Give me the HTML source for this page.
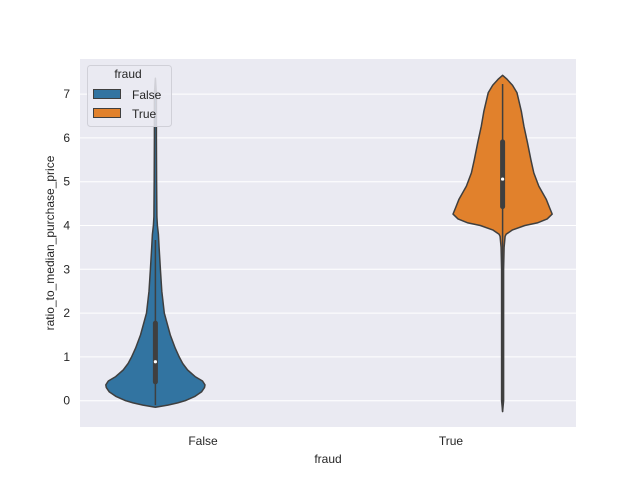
<!DOCTYPE html>
<html><head><meta charset="utf-8"><style>
body{margin:0;background:#fff;font-family:"Liberation Sans",sans-serif}
</style></head><body>
<svg id="c" width="640" height="480" xmlns="http://www.w3.org/2000/svg" style="font-family:'Liberation Sans',sans-serif"></svg>
<script>
const categories=["False","True"];
const colors=["#3274a1","#e1812c"];
const yTicks=[0,1,2,3,4,5,6,7];
const falseY=[-0.15,-0.1,-0.05,0,0.1,0.2,0.3,0.36,0.45,0.55,0.7,0.85,1.0,1.2,1.5,2.0,2.5,3.0,3.5,3.8,4.0,4.2,5,6,7,7.36];
const falseD=[0,0.25,0.45,0.6,0.8,0.93,0.99,1.0,0.95,0.8,0.65,0.55,0.48,0.4,0.3,0.18,0.13,0.1,0.075,0.06,0.04,0.03,0.025,0.02,0.02,0];
const trueY=[-0.25,0,1,2,3,3.5,3.75,3.8,3.9,4.0,4.06,4.15,4.26,4.4,4.6,4.9,5.2,5.5,5.9,6.27,6.6,7.03,7.2,7.35,7.43];
const trueD=[0,0.02,0.02,0.02,0.02,0.03,0.05,0.07,0.2,0.45,0.7,0.9,1.0,0.95,0.88,0.73,0.63,0.57,0.5,0.43,0.38,0.29,0.2,0.08,0];
const boxQ1=[0.43,4.43], boxQ3=[1.77,5.91], medians=[0.89,5.06], whiskLo=[-0.1,-0.25], whiskHi=[3.67,7.23];
const L=80,R=576,T=59,B=427;
const X=v=>203+v*248;
const Y=v=>400.7-v*43.8;
const svg=document.getElementById('c');
const NS="http://www.w3.org/2000/svg";
function mk(t,a,p){const e=document.createElementNS(NS,t);for(const k in a)e.setAttribute(k,a[k]);(p||svg).appendChild(e);return e;}
const bg=mk('rect',{x:L,y:T,width:R-L,height:B-T,fill:'#eaeaf2'});


yTicks.forEach(t=>{
 const g=mk('line',{x1:L,x2:R,y1:Y(t),y2:Y(t),stroke:'#fff','stroke-width':1});
 
 
 const tx=mk('text',{x:L-10,y:Y(t)+4,'text-anchor':'end','font-size':12,fill:'#262626'});
 tx.textContent=t;
 
 
});
categories.forEach((c,i)=>{
 const tx=mk('text',{x:X(i),y:445,'text-anchor':'middle','font-size':12,fill:'#262626'});
 tx.textContent=c;
 
 
});
const dens=[[falseY,falseD],[trueY,trueD]];
dens.forEach(([ys,ds],i)=>{
 const cx=X(i+(i===0?-0.2:0.2))+2, w=0.2*248;
 let pts=ys.map((y,k)=>[cx+ds[k]*w,Y(y)]);
 let left=ys.map((y,k)=>[cx-ds[k]*w,Y(y)]).reverse();
 const d='M'+pts.concat(left).map(p=>p[0].toFixed(1)+','+p[1].toFixed(1)).join('L')+'Z';
 const v=mk('path',{d:d,fill:colors[i],stroke:'#3f3f3f','stroke-width':1.5,'stroke-linejoin':'round'});
 
 
 const wl=mk('line',{x1:cx,x2:cx,y1:Y(whiskLo[i]),y2:Y(whiskHi[i]),stroke:'#3f3f3f','stroke-width':1.5});
 
 
 const bx=mk('line',{x1:cx,x2:cx,y1:Y(boxQ1[i]),y2:Y(boxQ3[i]),stroke:'#3f3f3f','stroke-width':5,'stroke-linecap':'round'});
 
 
 const m=mk('circle',{cx:cx,cy:Y(medians[i]),r:1.6,fill:'#fff'});
 
 
});
const yl=mk('text',{x:0,y:0,'text-anchor':'middle','font-size':12,fill:'#262626',transform:'translate(54,243) rotate(-90)'});
yl.textContent='ratio_to_median_purchase_price';


const xl=mk('text',{x:328,y:463,'text-anchor':'middle','font-size':12,fill:'#262626'});
xl.textContent='fraud';


const lg=mk('g',{});


mk('rect',{x:87.5,y:65.5,width:84,height:61,rx:3,fill:'#eaeaf2','fill-opacity':0.85,stroke:'#d0d0d8'},lg);
const lt=mk('text',{x:128,y:78,'text-anchor':'middle','font-size':12,fill:'#262626'},lg);lt.textContent='fraud';
categories.forEach((c,i)=>{
 const r=mk('rect',{x:93.5,y:89.5+i*19,width:27,height:9,fill:colors[i],stroke:'#3f3f3f'},lg);
 
 
 const t=mk('text',{x:132,y:99+i*19,'font-size':12,fill:'#262626'},lg);t.textContent=c;
 
 
});
</script>
</body></html>
